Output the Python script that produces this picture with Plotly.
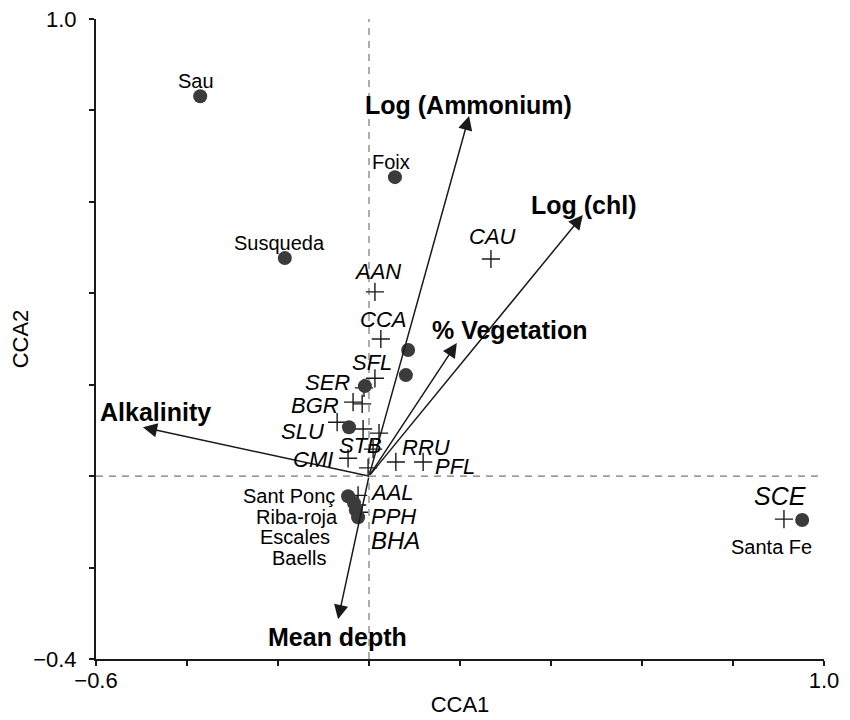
import plotly.graph_objects as go

# ---------------- data ----------------
site_names = ["Sau", "Foix", "Susqueda", "Sant Ponç", "Riba-roja", "Escales", "Baells", "Santa Fe"]
site_x = [-0.371, 0.057, -0.185, -0.046, -0.033, -0.029, -0.024, 0.952]
site_y = [0.831, 0.654, 0.477, -0.044, -0.059, -0.074, -0.090, -0.096]

# unlabelled sites
other_site_x = [0.086, 0.081, -0.009, -0.044]
other_site_y = [0.276, 0.221, 0.197, 0.107]

species_names = ["AAN", "CCA", "SFL", "SER", "BGR", "SLU", "STB", "CMI", "RRU", "PFL",
                 "AAL", "PPH", "BHA", "CAU", "SCE"]
species_x = [0.013, 0.026, 0.013, -0.011, -0.035, -0.070, 0.009, -0.046, 0.059, 0.119,
             -0.024, -0.026, -0.022, 0.268, 0.912]
species_y = [0.403, 0.300, 0.214, 0.193, 0.162, 0.118, 0.059, 0.039, 0.031, 0.031,
             -0.042, -0.063, -0.079, 0.475, -0.094]

# unlabelled species
other_species_x = [-0.015, -0.013, 0.022, -0.002]
other_species_y = [0.158, 0.103, 0.094, 0.018]

env_names = ["Log (Ammonium)", "Log (chl)", "% Vegetation", "Alkalinity", "Mean depth"]
env_x = [0.220, 0.470, 0.193, -0.497, -0.068]
env_y = [0.788, 0.571, 0.291, 0.107, -0.313]

x_ticks = [-0.6, -0.4, -0.2, 0.0, 0.2, 0.4, 0.6, 0.8, 1.0]
x_ticktext = ["\u22120.6", "", "", "", "", "", "", "", "1.0"]
y_ticks = [-0.4, -0.2, 0.0, 0.2, 0.4, 0.6, 0.8, 1.0]
y_ticktext = ["\u22120.4", "", "", "", "", "", "", "1.0"]

# ---------------- label placement (pixel offsets: dx right, dy down) ----------------
site_label_off = {
    "Sau": (-4, -15), "Foix": (-4, -15), "Susqueda": (-5, -15), "Santa Fe": (-31, 27),
    "Sant Ponç": (-59, 0), "Riba-roja": (-57, 14), "Escales": (-61, 27), "Baells": (-59, 41),
}
species_label_off = {
    "CAU": (2, -23), "AAN": (3, -20), "CCA": (2, -20), "SFL": (-3, -16), "SER": (-37, -5),
    "BGR": (-38, 3), "SLU": (-35, 9), "STB": (-13, -4), "CMI": (-35, 1), "RRU": (30, -14),
    "PFL": (32, 5), "AAL": (34, -3), "PPH": (36, 12), "BHA": (37, 28), "SCE": (-4, -23),
}
species_font = {"SCE": 25, "BHA": 24}
env_label_off = {
    "Log (Ammonium)": (-1, -11), "Log (chl)": (1, -10), "% Vegetation": (53, -13),
    "Alkalinity": (13, -15), "Mean depth": (-1, 18),
}

FONT = "Liberation Sans, Arial, Helvetica, sans-serif"
INK = "#1a1a1a"
DOT = "#3b3b3b"

fig = go.Figure()

# dashed reference lines
fig.add_shape(type="line", x0=0, x1=0, y0=-0.4, y1=1.0, xref="x", yref="y",
              line=dict(color="#777777", width=1.2, dash="7px,6px"), layer="below")
fig.add_shape(type="line", x0=-0.6, x1=1.0, y0=0, y1=0, xref="x", yref="y",
              line=dict(color="#777777", width=1.2, dash="7px,6px"), layer="below")

# species (+)
fig.add_trace(go.Scatter(
    x=species_x + other_species_x, y=species_y + other_species_y, mode="markers",
    marker=dict(symbol="cross-thin", size=13, line=dict(color=INK, width=1.4)),
    hoverinfo="skip", showlegend=False))

# sites (filled circles)
fig.add_trace(go.Scatter(
    x=site_x + other_site_x, y=site_y + other_site_y, mode="markers",
    marker=dict(symbol="circle", size=14, color=DOT, line=dict(width=0)),
    hoverinfo="skip", showlegend=False))

annotations = []
# environmental arrows
for name, ex, ey in zip(env_names, env_x, env_y):
    annotations.append(dict(x=ex, y=ey, ax=0, ay=0, xref="x", yref="y", axref="x", ayref="y",
                            showarrow=True, arrowhead=2, arrowsize=1.9, arrowwidth=1.5,
                            arrowcolor=INK, text="", standoff=0, startstandoff=0))
    dx, dy = env_label_off[name]
    annotations.append(dict(x=ex, y=ey, xref="x", yref="y", text="<b>%s</b>" % name,
                            showarrow=False, xshift=dx, yshift=-dy,
                            xanchor="center", yanchor="middle",
                            font=dict(family=FONT, size=25, color="#000000")))

for name, sx, sy in zip(site_names, site_x, site_y):
    dx, dy = site_label_off[name]
    annotations.append(dict(x=sx, y=sy, xref="x", yref="y", text=name, showarrow=False,
                            xshift=dx, yshift=-dy, xanchor="center", yanchor="middle",
                            font=dict(family=FONT, size=20, color="#000000")))

for name, sx, sy in zip(species_names, species_x, species_y):
    dx, dy = species_label_off[name]
    annotations.append(dict(x=sx, y=sy, xref="x", yref="y", text="<i>%s</i>" % name,
                            showarrow=False, xshift=dx, yshift=-dy, xanchor="center",
                            yanchor="middle",
                            font=dict(family=FONT, size=species_font.get(name, 22),
                                      color="#000000")))

fig.update_layout(
    template="none",
    width=850, height=720,
    margin=dict(l=88, r=34, t=11, b=69, autoexpand=False),
    plot_bgcolor="white", paper_bgcolor="white",
    annotations=annotations,
    font=dict(family=FONT, size=22, color="#000000"),
)
fig.update_xaxes(range=[-0.6, 1.0], tickvals=x_ticks, ticktext=x_ticktext, automargin=False,
                 showgrid=False, zeroline=False, showline=True, linecolor=INK, linewidth=2,
                 ticks="outside", ticklen=5, tickwidth=1.5, tickcolor=INK,
                 ticklabelstandoff=-4, ticklabeloverflow="allow",
                 tickfont=dict(family=FONT, size=22),
                 title=dict(text="CCA1", font=dict(family=FONT, size=22), standoff=4))
fig.update_yaxes(range=[-0.4, 1.0], tickvals=y_ticks, ticktext=y_ticktext, automargin=False,
                 showgrid=False, zeroline=False, showline=True, linecolor=INK, linewidth=2,
                 ticks="outside", ticklen=5, tickwidth=1.5, tickcolor=INK,
                 ticklabelstandoff=8, ticklabeloverflow="allow",
                 tickfont=dict(family=FONT, size=22),
                 title=dict(text="CCA2", font=dict(family=FONT, size=22), standoff=5))

fig.write_html("out.html")
